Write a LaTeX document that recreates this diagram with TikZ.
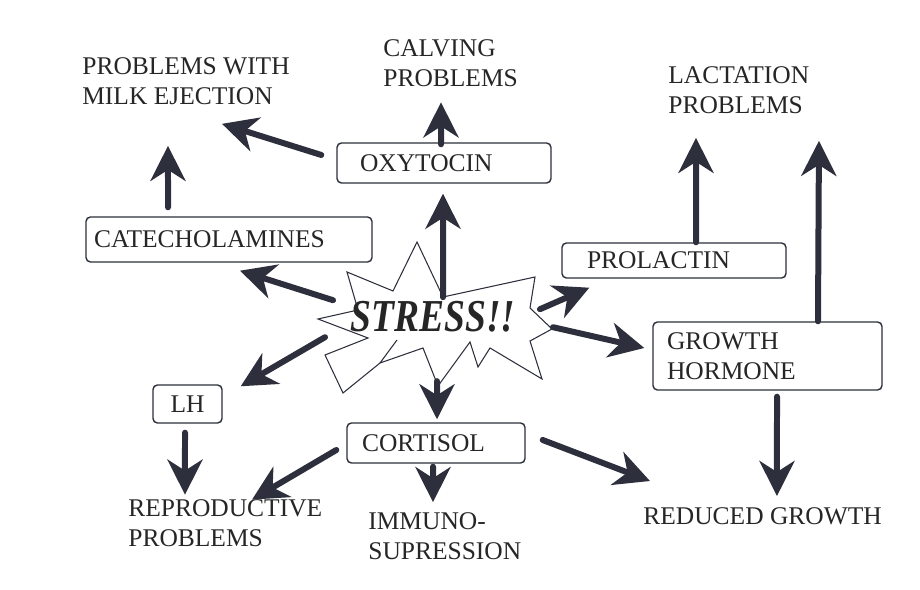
\documentclass[tikz,border=0pt]{standalone}
\usepackage{fontspec}
\setmainfont{Liberation Serif}
\usetikzlibrary{arrows.meta}
\definecolor{ink}{RGB}{45,48,60}

\begin{document}
\begin{tikzpicture}[
  x=0.02cm, y=-0.02cm,
  every node/.style={font=\fontsize{14.5}{17}\selectfont, text=black!85},
  effect/.style={align=left, inner sep=0pt},
  hormone/.style={draw=ink, rounded corners=2.5pt, line width=0.8pt, align=left, inner ysep=0pt},
  arrow/.style={-{Stealth[length=0.7cm, width=0.7cm, inset=0.22cm]}, line width=0.12cm, draw=ink, line cap=round}
]
\useasboundingbox (0,0) rectangle (920,590);

% Starburst
\draw[line width=0.6pt, draw=ink, fill=white]
  (318,319) -- (358,310) -- (347,272) -- (393,291) -- (417,242) -- (443,297)
  -- (535,277) -- (530,308) -- (552,329) -- (530,341) -- (542,379) -- (490,348)
  -- (478,367) -- (470,342) -- (438,386) -- (423,348) -- (380,363) -- (343,393)
  -- (325,355) -- (368,338) -- cycle;
\draw[line width=0.6pt, draw=ink] (397,340) -- (380,363);
\node[anchor=base, inner sep=0pt, font=\fontsize{26}{26}\selectfont\bfseries\itshape] (stress) at (433,332) {\scalebox{0.82}[1]{STRESS!!}};

% Hormones
\node[hormone, text width=3.36cm, inner xsep=0.46cm, minimum height=0.8cm] (oxy) at (444,163) {OXYTOCIN};
\node[hormone, text width=5.4cm, inner xsep=0.16cm, minimum height=0.9cm] (cat) at (229,239.5) {CATECHOLAMINES};
\node[hormone, text width=3.48cm, inner xsep=0.5cm, minimum height=0.7cm] (prl) at (674,260.5) {PROLACTIN};
\node[hormone, text width=4.02cm, inner xsep=0.28cm, minimum height=1.36cm] (gh) at (767.5,356) {GROWTH\\HORMONE};
\node[hormone, align=center, text width=0.98cm, inner xsep=0.2cm, minimum height=0.76cm] (lh) at (187.5,404) {LH};
\node[hormone, text width=2.96cm, inner xsep=0.3cm, minimum height=0.8cm] (cort) at (436,443) {CORTISOL};

% Effects
\node[effect, anchor=west] (milk) at (82,81) {PROBLEMS WITH\\MILK EJECTION};
\node[effect, anchor=west] (calving) at (383,63.5) {CALVING\\PROBLEMS};
\node[effect, anchor=west] (lact) at (668,90) {LACTATION\\PROBLEMS};
\node[effect, anchor=west] (repro) at (128,523.5) {REPRODUCTIVE\\PROBLEMS};
\node[effect, anchor=west] (immuno) at (368,536) {IMMUNO-\\SUPRESSION};
\node[effect, anchor=west] (reduced) at (643,516) {REDUCED GROWTH};

% Arrows out of the starburst
\draw[arrow] ([xshift=0.2cm, yshift=0.4cm]stress.center) -- ([xshift=-0.02cm, yshift=-0.2cm]oxy.south);
\draw[arrow] ([xshift=-2cm, yshift=0.34cm]stress.center) -- ([xshift=0.22cm, yshift=-0.16cm]cat.south);
\draw[arrow] ([xshift=2.14cm, yshift=0.16cm]stress.center) -- ([xshift=0.56cm, yshift=-0.18cm]prl.south west);
\draw[arrow] ([xshift=2.4cm, yshift=-0.2cm]stress.center) -- ([xshift=-0.16cm, yshift=0.16cm]gh.west);
\draw[arrow] ([xshift=-2.16cm, yshift=-0.4cm]stress.center) -- ([xshift=0.36cm, yshift=-0.04cm]lh.north east);
\draw[arrow] ([xshift=0.08cm, yshift=-1.28cm]stress.center) -- ([xshift=0.02cm, yshift=0.06cm]cort.north);

% Arrows to the effects
\draw[arrow] ([xshift=-0.3cm, yshift=0.16cm]oxy.west) -- ([xshift=2.8cm, yshift=-0.38cm]milk.south west);
\draw[arrow] ([xshift=-0.06cm, yshift=-0.04cm]oxy.north) -- ([xshift=1.16cm, yshift=-0.3cm]calving.south west);
\draw[arrow] ([xshift=-1.22cm, yshift=0.18cm]cat.north) -- ([xshift=1.72cm, yshift=-0.82cm]milk.south west);
\draw[arrow] ([xshift=0.44cm]prl.north) -- ([xshift=0.56cm, yshift=-0.48cm]lact.south west);
\draw[arrow] ([xshift=1.01cm]gh.north) -- ([xshift=3.02cm, yshift=-0.54cm]lact.south west);
\draw[arrow] ([xshift=-0.05cm, yshift=-0.18cm]lh.south) -- ([xshift=1.14cm, yshift=0.1cm]repro.north west);
\draw[arrow] ([xshift=-0.2cm, yshift=-0.14cm]cort.west) -- ([xshift=2.48cm]repro.north west);
\draw[arrow] ([xshift=-0.06cm, yshift=-0.06cm]cort.south) -- ([xshift=1.3cm, yshift=0.2cm]immuno.north west);
\draw[arrow] ([xshift=0.34cm, yshift=0.06cm]cort.east) -- ([xshift=0.14cm, yshift=0.52cm]reduced.north west);
\draw[arrow] ([xshift=0.19cm, yshift=-0.12cm]gh.south) -- ([xshift=2.68cm, yshift=0.22cm]reduced.north west);

\end{tikzpicture}
\end{document}
